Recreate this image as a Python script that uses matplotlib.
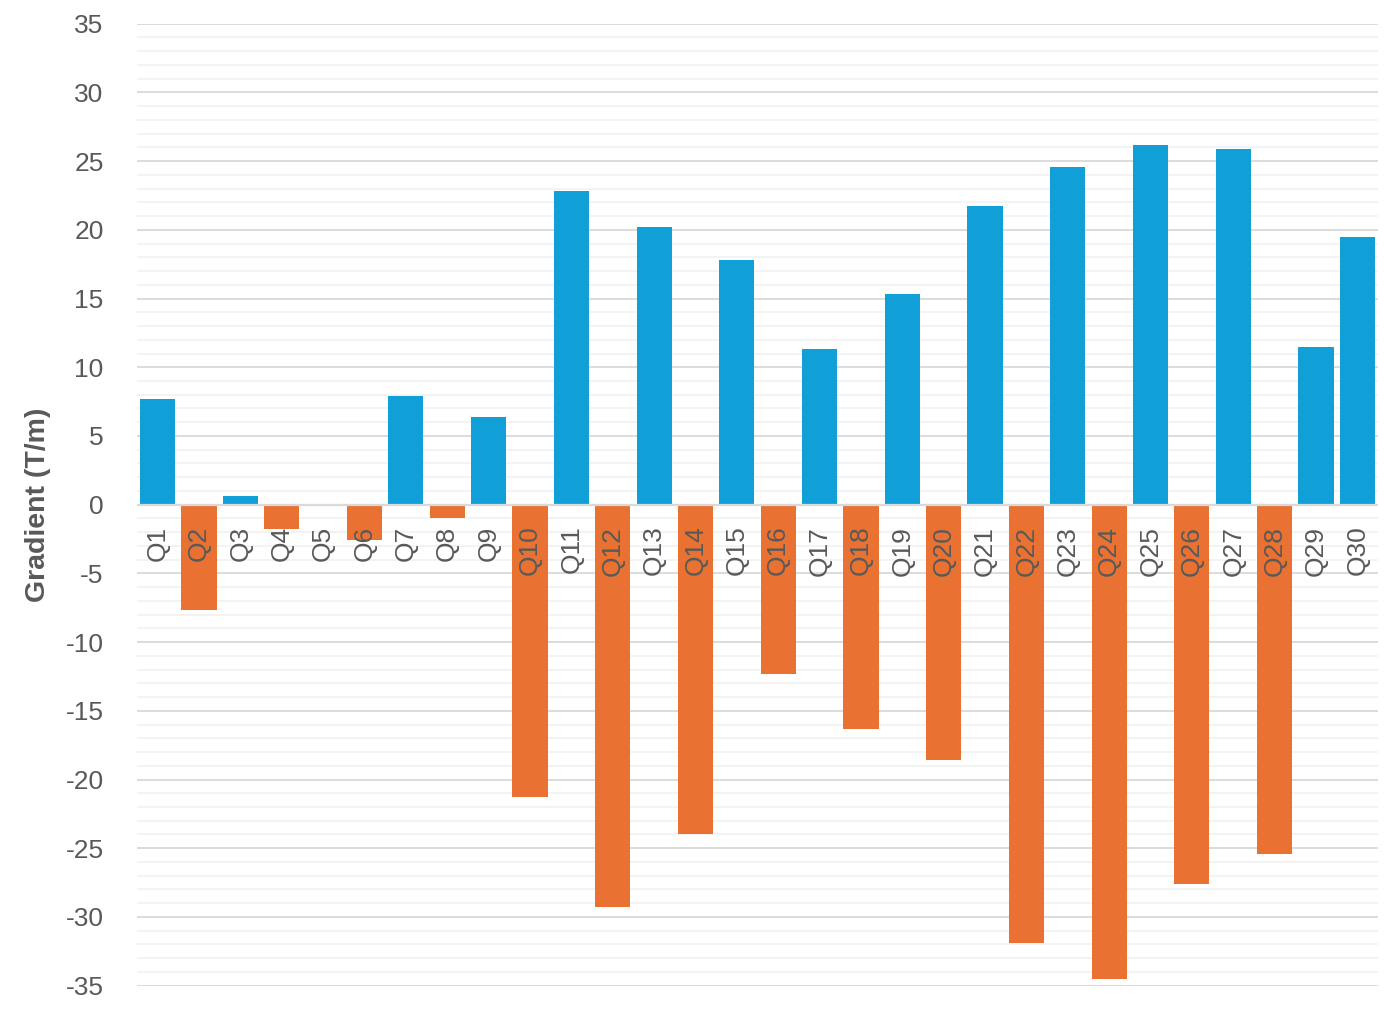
import matplotlib
matplotlib.use("Agg")
import matplotlib.pyplot as plt
import numpy as np
from matplotlib.ticker import MultipleLocator
from matplotlib.transforms import ScaledTranslation

categories = [f"Q{i}" for i in range(1, 31)]
values = [7.7, -7.7, 0.6, -1.8, 0.0, -2.6, 7.9, -1.0, 6.4, -21.3,
          22.8, -29.3, 20.2, -24.0, 17.8, -12.3, 11.3, -16.3, 15.3, -18.6,
          21.7, -31.9, 24.6, -34.5, 26.2, -27.6, 25.9, -25.4, 11.5, 19.5]

BLUE = "#109FD7"
ORANGE = "#E97132"
TEXT = "#595959"

plt.rcParams['font.family'] = ['Liberation Sans', 'DejaVu Sans']

fig = plt.figure(figsize=(13.92, 10.13), dpi=100)
ax = fig.add_axes([0.0984, 0.027, 0.8916, 0.9496])

x = np.arange(len(categories))
colors = [BLUE if v >= 0 else ORANGE for v in values]
ax.bar(x, values, width=0.85, color=colors, zorder=3)

ax.set_xlim(-0.5, 29.5)
ax.set_ylim(-35, 35)
ax.yaxis.set_major_locator(MultipleLocator(5))
ax.yaxis.set_minor_locator(MultipleLocator(1))
ax.grid(which='major', axis='y', color='#D9D9D9', linewidth=1.3, zorder=1)
ax.grid(which='minor', axis='y', color='#F2F2F2', linewidth=1.3, zorder=0)
ax.axhline(0, color='#D9D9D9', linewidth=1.6, zorder=4)

for s in ax.spines.values():
    s.set_visible(False)

ax.set_xticks([])
ax.tick_params(axis='y', which='both', length=0, labelsize=19, labelcolor=TEXT, pad=24)
ax.set_yticks(np.arange(-35, 36, 5))
ax.set_yticklabels([str(v) for v in range(-35, 36, 5)])

# category labels just below the zero line, drawn over bars
offset = ScaledTranslation(0, -21/100, fig.dpi_scale_trans)
for xi, cat in zip(x, categories):
    ax.text(xi, 0, cat, rotation=90, ha='center', va='top', fontsize=19,
            color=TEXT, zorder=6, transform=ax.transData + offset)

ax.set_ylabel("Gradient (T/m)", fontsize=20.5, fontweight='bold', color=TEXT)
ax.yaxis.set_label_coords(-0.069, 0.5)

fig.savefig("out.png", dpi=100)
